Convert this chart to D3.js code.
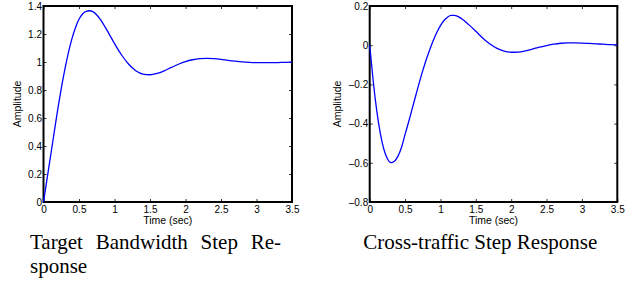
<!DOCTYPE html>
<html>
<head>
<meta charset="utf-8">
<script src="https://cdn.jsdelivr.net/npm/d3@7"></script>
<style>
  body { margin: 0; background: #fff; }
  svg { display: block; }
  .tick text { font-family: "Liberation Sans", Arial, sans-serif; font-size: 10px; fill: #000; }
  .tick line { stroke: #000; stroke-width: 0.8; }
  .domain { display: none; }
</style>
</head>
<body>
<svg id="chart" width="639" height="281"></svg>
<script>
// step response, target bandwidth (left)
const timeA = [0, 0.05, 0.1, 0.15, 0.2, 0.25, 0.3, 0.35, 0.4, 0.45, 0.5, 0.55, 0.6, 0.65, 0.7,
  0.8, 0.9, 1.0, 1.1, 1.2, 1.3, 1.4, 1.5, 1.6, 1.7, 1.8, 1.9, 2.0, 2.1, 2.2, 2.3, 2.4, 2.5,
  2.6, 2.7, 2.8, 2.9, 3.0, 3.1, 3.2, 3.3, 3.4, 3.5];
const ampA = [0, 0.165, 0.33, 0.495, 0.66, 0.81, 0.945, 1.065, 1.165, 1.245, 1.305, 1.343, 1.362, 1.366, 1.358,
  1.305, 1.222, 1.132, 1.05, 0.984, 0.938, 0.914, 0.909, 0.918, 0.937, 0.961, 0.984, 1.003, 1.016, 1.024, 1.026, 1.024, 1.019,
  1.012, 1.006, 1.001, 0.998, 0.996, 0.995, 0.995, 0.996, 0.998, 0.999];

// step response, cross traffic (right)
const timeB = [0, 0.05, 0.1, 0.15, 0.2, 0.25, 0.3, 0.35, 0.4, 0.45, 0.5, 0.55, 0.6, 0.65, 0.7,
  0.75, 0.8, 0.85, 0.9, 0.95, 1.0, 1.05, 1.1, 1.15, 1.2, 1.3, 1.4, 1.5, 1.6, 1.7, 1.8, 1.9,
  2.0, 2.1, 2.2, 2.3, 2.4, 2.5, 2.6, 2.7, 2.8, 2.9, 3.0, 3.1, 3.2, 3.3, 3.4, 3.5];
const ampB = [0, -0.185, -0.335, -0.45, -0.531, -0.579, -0.599, -0.592, -0.566, -0.521, -0.455, -0.392, -0.325, -0.258, -0.192,
  -0.13, -0.073, -0.022, 0.025, 0.066, 0.1, 0.126, 0.143, 0.152, 0.152, 0.135, 0.105, 0.071, 0.036, 0.006, -0.016, -0.03,
  -0.036, -0.035, -0.029, -0.02, -0.01, -0.002, 0.005, 0.01, 0.012, 0.012, 0.011, 0.009, 0.007, 0.005, 0.003, 0.002];

const xTicks = [0, 0.5, 1, 1.5, 2, 2.5, 3, 3.5];
const yTicksA = [0, 0.2, 0.4, 0.6, 0.8, 1, 1.2, 1.4];
const yTicksB = [-0.8, -0.6, -0.4, -0.2, 0, 0.2];

const captionA = ["Target", "Bandwidth", "Step", "Re-"];
const captionA2 = "sponse";
const captionB = "Cross-traffic Step Response";

const svg = d3.select("#chart");
const fmt = d => String(d).replace("-", "\u2013");

function panel(left, right, times, amps, yDomain, yTicks, labelX) {
  const top = 6, bottom = 202;
  const x = d3.scaleLinear().domain([0, 3.5]).range([left, right]);
  const y = d3.scaleLinear().domain(yDomain).range([bottom, top]);
  const g = svg.append("g");

  g.append("g").attr("transform", `translate(0,${bottom})`)
    .call(d3.axisBottom(x).tickValues(xTicks).tickFormat(fmt).tickSizeInner(-3).tickSizeOuter(0).tickPadding(4));
  g.append("g").attr("transform", `translate(0,${top})`)
    .call(d3.axisTop(x).tickValues(xTicks).tickFormat("").tickSizeInner(-3).tickSizeOuter(0));
  g.append("g").attr("transform", `translate(${left},0)`)
    .call(d3.axisLeft(y).tickValues(yTicks).tickFormat(fmt).tickSizeInner(-3).tickSizeOuter(0).tickPadding(1.5));
  g.append("g").attr("transform", `translate(${right},0)`)
    .call(d3.axisRight(y).tickValues(yTicks).tickFormat("").tickSizeInner(-3).tickSizeOuter(0));

  g.append("rect")
    .attr("x", left).attr("y", top)
    .attr("width", right - left).attr("height", bottom - top)
    .attr("fill", "none").attr("stroke", "#000").attr("stroke-width", 2);

  const line = d3.line()
    .x((d, i) => x(times[i]))
    .y(d => y(d))
    .curve(d3.curveMonotoneX);
  g.append("path").datum(amps)
    .attr("fill", "none").attr("stroke", "#0000ff").attr("stroke-width", 1.3)
    .attr("d", line);

  g.append("text")
    .attr("x", (left + right) / 2).attr("y", 224)
    .attr("text-anchor", "middle")
    .style("font-family", "Liberation Sans, Arial, sans-serif").style("font-size", "10.5px")
    .text("Time (sec)");
  g.append("text")
    .attr("transform", `translate(${labelX},${(top + bottom) / 2}) rotate(-90)`)
    .attr("text-anchor", "middle")
    .style("font-family", "Liberation Sans, Arial, sans-serif").style("font-size", "10.5px")
    .text("Amplitude");
}

panel(43.5, 292, timeA, ampA, [0, 1.4], yTicksA, 21);
panel(369.7, 617.3, timeB, ampB, [-0.8, 0.2], yTicksB, 341);

// captions
const serif = "Liberation Serif, Times New Roman, serif";
const lineStart = 30, lineEnd = 281;
const words = svg.append("g").selectAll("text").data(captionA).join("text")
  .attr("y", 248.5)
  .style("font-family", serif).style("font-size", "21px")
  .text(d => d);
const widths = words.nodes().map(n => n.getComputedTextLength());
const gap = (lineEnd - lineStart - d3.sum(widths)) / (captionA.length - 1);
let pos = lineStart;
words.attr("x", (d, i) => { const p = pos; pos += widths[i] + gap; return p; });

svg.append("text").attr("x", lineStart).attr("y", 273)
  .style("font-family", serif).style("font-size", "21px")
  .text(captionA2);

svg.append("text").attr("x", 480.3).attr("y", 248.5)
  .attr("text-anchor", "middle")
  .style("font-family", serif).style("font-size", "21px")
  .text(captionB);
</script>
</body>
</html>
